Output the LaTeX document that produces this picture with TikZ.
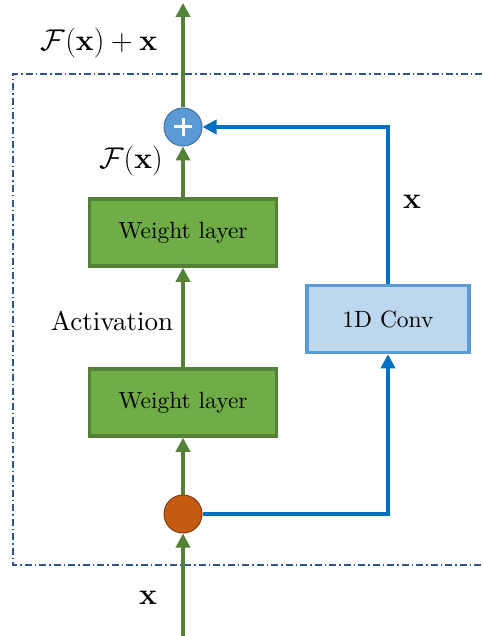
\documentclass[tikz,border=0pt]{standalone}
\usepackage{fix-cm}
\usepackage{amsmath}
\usepackage[no-math]{fontspec}
\setmainfont{lmroman10-regular.otf}
\usetikzlibrary{arrows.meta}
\definecolor{gline}{HTML}{538135}
\definecolor{gfill}{HTML}{70AD47}
\definecolor{bline}{HTML}{0070C0}
\definecolor{cfill}{HTML}{BDD7EE}
\definecolor{cdraw}{HTML}{5B9BD5}
\definecolor{pfill}{HTML}{5B9BD5}
\definecolor{pdraw}{HTML}{41719C}
\definecolor{ofill}{HTML}{C55A11}
\definecolor{odraw}{HTML}{843C0C}
\definecolor{dashc}{HTML}{2F5597}
\tikzset{
  wlayer/.style={draw=gline, fill=gfill, line width=3.5pt, minimum width=187pt, minimum height=67pt, inner sep=0pt, font=\fontsize{23.5}{27}\selectfont},
  convbox/.style={draw=cdraw, fill=cfill, line width=3.5pt, minimum width=162pt, minimum height=67pt, inner sep=0pt, font=\fontsize{23.5}{27}\selectfont},
  garrow/.style={draw=gline, line width=4pt, -{Triangle[length=14pt,width=14pt]}},
  barrow/.style={draw=bline, line width=4pt, -{Triangle[length=14pt,width=14pt]}},
  mlabel/.style={font=\fontsize{30}{34}\selectfont, inner sep=0pt},
}
\begin{document}
\begin{tikzpicture}[x=1pt,y=-1pt]
\useasboundingbox (0,0) rectangle (482,636);
% dashed frame
\draw[dashc, line width=1.2pt, dash pattern=on 7pt off 3pt on 1.5pt off 3pt] (482,74) -- (13,74) -- (13,565) -- (482,565);
% nodes
\node[wlayer] (w2) at (183,232.5) {Weight layer};
\node[wlayer] (w1) at (183,402.5) {Weight layer};
\node[convbox] (conv) at (388,319) {1D Conv};
\node[circle, draw=pdraw, fill=pfill, line width=1pt, minimum size=38pt, inner sep=0pt] (plus) at (183,127) {};
\draw[white, line width=3pt] ([xshift=-9pt]plus.center) -- ([xshift=9pt]plus.center) ([yshift=-9pt]plus.center) -- ([yshift=9pt]plus.center);
\node[circle, draw=odraw, fill=ofill, line width=1pt, minimum size=38pt, inner sep=0pt] (split) at (183,514) {};
\coordinate (top) at (183,3);
\coordinate (bot) at (183,636);
% connectors
\draw[garrow] (bot) -- (split.south);
\draw[garrow] (split.north) -- (w1.south);
\draw[garrow] (w1.north) -- (w2.south);
\draw[garrow] (w2.north) -- (plus.south);
\draw[garrow] (plus.north) -- (top);
\draw[barrow] (split.east) -| (conv.south);
\draw[barrow] (conv.north) |- (plus.east);
% labels
\node[mlabel] (lout) at (99,43) {$\mathcal{F}(\mathbf{x})+\mathbf{x}$};
\node[mlabel] (lfx) at (131,161) {$\mathcal{F}(\mathbf{x})$};
\node[mlabel] (lx1) at (412,202) {$\mathbf{x}$};
\node[font=\fontsize{27}{31}\selectfont, inner sep=0pt] (lact) at (112,321) {Activation};
\node[mlabel] (lx2) at (148,598) {$\mathbf{x}$};
\end{tikzpicture}
\end{document}
